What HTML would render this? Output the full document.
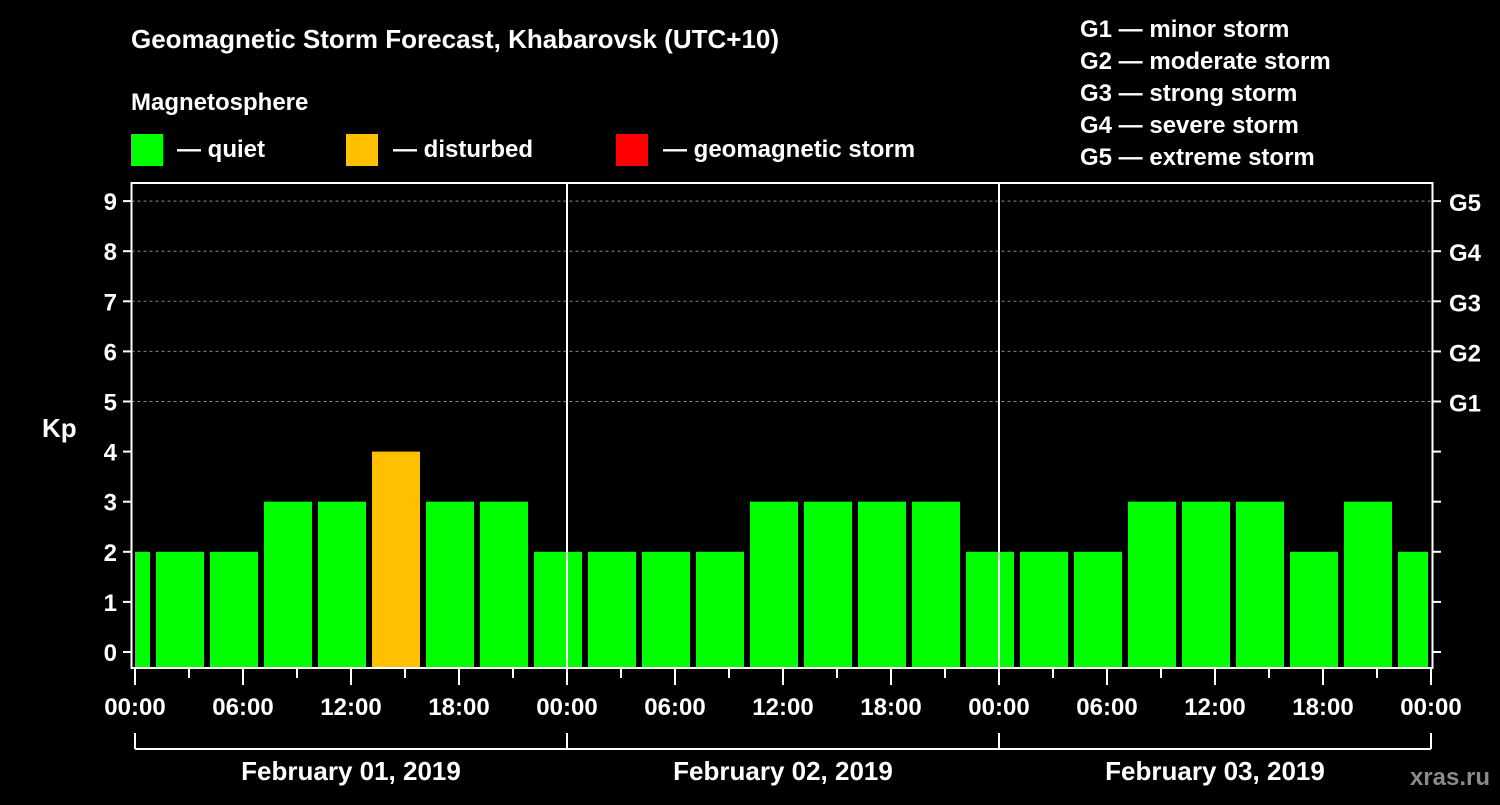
<!DOCTYPE html>
<html><head><meta charset="utf-8"><style>
body{margin:0;background:#000;}
svg text{font-family:"Liberation Sans",Arial,sans-serif;font-weight:bold;fill:#fff;}
</style></head><body>
<svg id="c" width="1500" height="800">
<rect width="1500" height="800" fill="#000"/>
<text x="131" y="48" font-size="26">Geomagnetic Storm Forecast, Khabarovsk (UTC+10)</text>
<text x="131" y="110" font-size="24">Magnetosphere</text>
<g><rect x="131" y="134" width="32" height="32" fill="#00ff00"/><text x="177" y="157" font-size="24">— quiet</text></g>
<g><rect x="346" y="134" width="32" height="32" fill="#ffc000"/><text x="393" y="157" font-size="24">— disturbed</text></g>
<g><rect x="616" y="134" width="32" height="32" fill="#ff0000"/><text x="663" y="157" font-size="24">— geomagnetic storm</text></g>
<g font-size="24">
<text x="1080" y="37">G1 — minor storm</text><text x="1080" y="69">G2 — moderate storm</text><text x="1080" y="101">G3 — strong storm</text><text x="1080" y="133">G4 — severe storm</text><text x="1080" y="165">G5 — extreme storm</text></g>
<g id="grid"></g><g id="bars"></g><g id="axes"></g>
<text x="42" y="437" font-size="26">Kp</text>
<text x="1490" y="785" font-size="24" text-anchor="end" fill="#888" style="fill:#8a8a8a">xras.ru</text>
</svg>
<script>
const kpValues=[2,2,2,3,3,4,3,3,2,2,2,2,3,3,3,3,2,2,2,3,3,3,2,3,2];
const barStartHours=[-2,1,4,7,10,13,16,19,22,25,28,31,34,37,40,43,46,49,52,55,58,61,64,67,70];
const dayLabels=["February 01, 2019","February 02, 2019","February 03, 2019"];
const timeLabels=["00:00","06:00","12:00","18:00"];
const gLabels=["G1","G2","G3","G4","G5"];
const NS="http://www.w3.org/2000/svg";
const X0=135,PXH=18,Y0=652,PXK=50.1,BOT=668,LEFT=131.5,RIGHT=1432.5,TOP=183;
const x=h=>X0+h*PXH, y=k=>Y0-k*PXK;
function mk(t,a,p){const e=document.createElementNS(NS,t);for(const k in a)e.setAttribute(k,a[k]);p.appendChild(e);return e;}
const grid=document.getElementById('grid'),bars=document.getElementById('bars'),axes=document.getElementById('axes');
for(let k=5;k<=9;k++){const l=mk('line',{x1:LEFT,x2:RIGHT,y1:y(k),y2:y(k),stroke:'#888','stroke-dasharray':'3,3','stroke-width':1},grid);

}
kpValues.forEach((v,i)=>{let a=Math.max(x(barStartHours[i])+3,X0),b=Math.min(x(barStartHours[i]+3)-3,1428);
const r=mk('rect',{x:a,y:y(v),width:b-a,height:BOT-y(v),fill:v>=5?'#ff0000':v>=4?'#ffc000':'#00ff00'},bars);

});
mk('rect',{x:LEFT,y:TOP,width:RIGHT-LEFT,height:BOT-TOP,fill:'none',stroke:'#fff','stroke-width':2},axes);
for(let d=1;d<3;d++)mk('line',{x1:x(24*d),x2:x(24*d),y1:TOP,y2:BOT,stroke:'#fff','stroke-width':2},axes);
for(let k=0;k<=9;k++){mk('line',{x1:123,x2:LEFT,y1:y(k),y2:y(k),stroke:'#fff','stroke-width':2},axes);
mk('line',{x1:RIGHT,x2:1441,y1:y(k),y2:y(k),stroke:'#fff','stroke-width':2},axes);
const t=mk('text',{x:117,y:y(k)+9,'font-size':24,'text-anchor':'end'},axes);t.textContent=k;

}
gLabels.forEach((g,i)=>{const t=mk('text',{x:1449,y:y(5+i)+10,'font-size':24},axes);t.textContent=g;

});
for(let h=0;h<=72;h+=3){mk('line',{x1:x(h),x2:x(h),y1:BOT,y2:h%6?678:685,stroke:'#fff','stroke-width':2},axes);
if(h%6===0){const t=mk('text',{x:x(h),y:715,'font-size':24,'text-anchor':'middle'},axes);t.textContent=timeLabels[(h%24)/6];

}}
mk('line',{x1:x(0),x2:x(72),y1:749,y2:749,stroke:'#fff','stroke-width':2},axes);
for(let d=0;d<=3;d++)mk('line',{x1:x(24*d),x2:x(24*d),y1:733,y2:749,stroke:'#fff','stroke-width':2},axes);
dayLabels.forEach((s,i)=>{const t=mk('text',{x:x(24*i+12),y:780,'font-size':26,'text-anchor':'middle'},axes);t.textContent=s;

});
</script>
</body></html>
